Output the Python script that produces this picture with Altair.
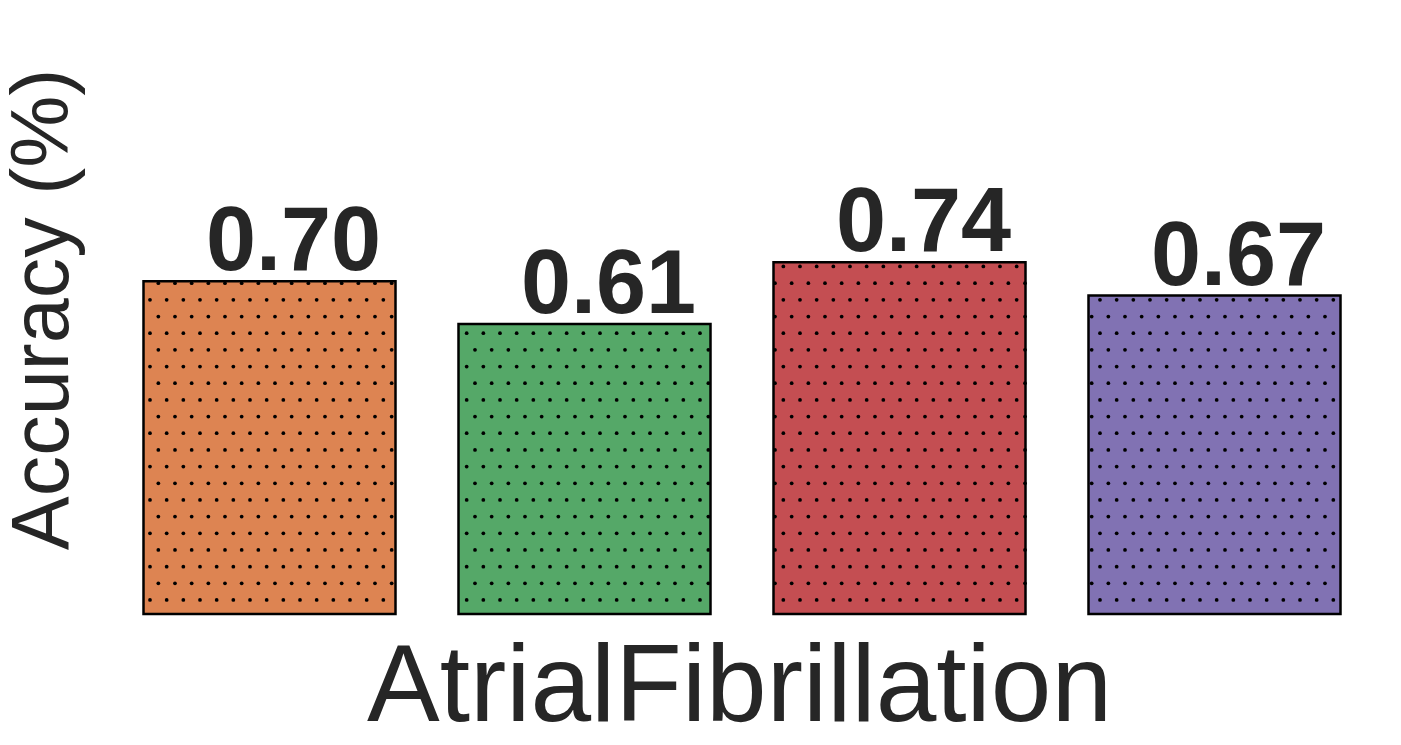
import altair as alt
import pandas as pd

categories = ["M1", "M2", "M3", "M4"]
values = [0.70, 0.61, 0.74, 0.67]
colors = ["#dd8452", "#55a868", "#c44e52", "#8172b3"]

df = pd.DataFrame({"cat": categories, "value": values, "idx": list(range(len(categories)))})

FONT = "Liberation Sans"
TXT = "#262626"

xscale = alt.Scale(domain=[0, 4], nice=False, zero=False)
yscale = alt.Scale(domain=[0, 1.21], nice=False)
cscale = alt.Scale(domain=categories, range=colors)

xaxis = alt.Axis(title="AtrialFibrillation", labels=False, ticks=False, domain=False, grid=False,
                 titleFont=FONT, titleFontSize=109, titleFontWeight="normal", titleColor=TXT,
                 titleX=627, titleY=106, titleBaseline="alphabetic", titleAlign="center")
yaxis = alt.Axis(title="Accuracy (%)", labels=False, ticks=False, domain=False, grid=False,
                 titleFont=FONT, titleFontSize=81, titleFontWeight="normal", titleColor=TXT,
                 titleX=-45, titleY=270, titleAngle=270, titleBaseline="alphabetic", titleAlign="center")

base = alt.Chart(df).transform_calculate(
    x0="datum.idx + 0.1", x1="datum.idx + 0.9", xc="datum.idx + 0.5"
)

bars = base.mark_bar(strokeWidth=0).encode(
    x=alt.X("x0:Q", scale=xscale, axis=xaxis),
    x2="x1:Q",
    y=alt.Y("value:Q", scale=yscale, axis=yaxis),
    y2=alt.datum(0),
    color=alt.Color("cat:N", scale=cscale, legend=None),
)

dots = alt.Chart(df).transform_calculate(
    rows="sequence(0, 30)"
).transform_flatten(["rows"]).transform_calculate(
    cols="sequence(0, 80)"
).transform_flatten(["cols"]).transform_calculate(
    dx="0.12063 + datum.cols * 0.05291 + (datum.rows % 2 == 1 ? 0.026455 : 0)",
    dy="0.02947 + datum.rows * 0.03509",
).transform_filter(
    "datum.dx > datum.idx + 0.1 && datum.dx < datum.idx + 0.9 && datum.dy < datum.value"
).mark_circle(size=14, color="black", opacity=1).encode(
    x=alt.X("dx:Q", scale=xscale, axis=xaxis),
    y=alt.Y("dy:Q", scale=yscale, axis=yaxis),
)

outline = base.mark_bar(fillOpacity=0, stroke="black", strokeWidth=2.5).encode(
    x=alt.X("x0:Q", scale=xscale, axis=xaxis),
    x2="x1:Q",
    y=alt.Y("value:Q", scale=yscale, axis=yaxis),
    y2=alt.datum(0),
)

labels = base.mark_text(font=FONT, fontWeight="bold", fontSize=90, color=TXT,
                        align="center", baseline="alphabetic", dx=24, dy=-11).encode(
    x=alt.X("xc:Q", scale=xscale, axis=xaxis),
    y=alt.Y("value:Q", scale=yscale, axis=yaxis),
    text=alt.Text("value:Q", format=".2f"),
)

chart = alt.layer(bars, dots, outline, labels).properties(
    width=1260, height=575,
    autosize=alt.AutoSizeParams(type="none"),
    padding={"left": 104, "top": 31, "right": 21, "bottom": 123},
).configure_view(stroke=None)

chart.save("out.html", embed_options={"renderer": "svg", "actions": False})
